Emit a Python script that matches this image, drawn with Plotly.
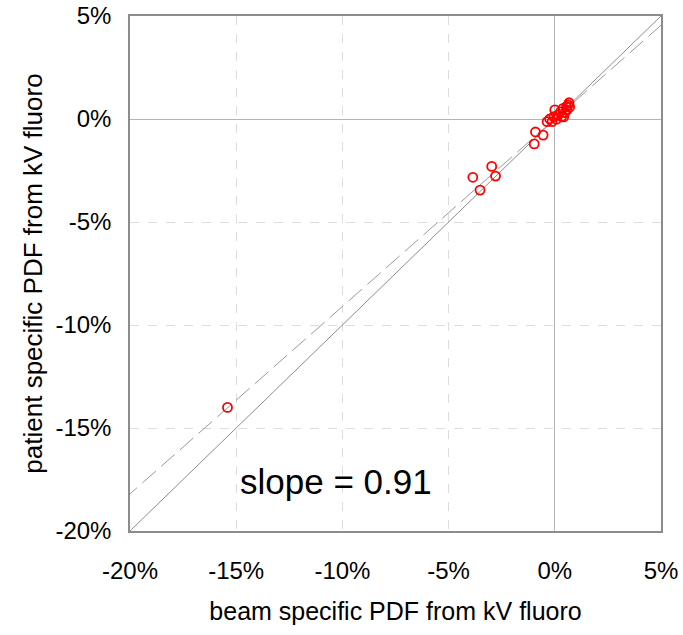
import plotly.graph_objects as go

# Per-field PDF differences (%): beam specific (x) vs patient specific (y)
beam_pdf = [-15.41, -3.86, -3.52, -2.97, -2.79, -0.97, -0.91, -0.55,
            -0.36, -0.24, -0.13, -0.05, 0.08, 0.16, 0.27, 0.32, 0.39,
            0.47, 0.55, 0.63, 0.67, 0.58, 0.00, 0.42, 0.70]
patient_pdf = [-14.00, -2.83, -3.45, -2.30, -2.77, -1.21, -0.63, -0.78,
               -0.13, 0.00, -0.13, 0.11, -0.01, 0.19, 0.35, 0.11, 0.52,
               0.31, 0.60, 0.68, 0.79, 0.44, 0.44, 0.10, 0.58]

slope = 0.91
axis_min, axis_max = -20, 5
tick_vals = [-20, -15, -10, -5, 0, 5]
tick_text = ["-20%", "-15%", "-10%", "-5%", "0%", "5%"]

FONT = "Liberation Sans, Arial, sans-serif"

fig = go.Figure()

# identity line
fig.add_trace(go.Scatter(
    x=[axis_min, axis_max], y=[axis_min, axis_max], mode="lines",
    line=dict(color="#8c8c8c", width=1), hoverinfo="skip", showlegend=False))

# fitted line through origin
fit_x = [axis_min - 0.3, axis_max]
fig.add_trace(go.Scatter(
    x=fit_x, y=[slope * v for v in fit_x], mode="lines",
    line=dict(color="#9a9a9a", width=1, dash="18px,7px"),
    hoverinfo="skip", showlegend=False))

fig.add_trace(go.Scatter(
    x=beam_pdf, y=patient_pdf, mode="markers",
    marker=dict(symbol="circle-open", size=9, color="#ff0000",
                line=dict(width=1.8, color="#ff0000")),
    showlegend=False))

fig.add_annotation(
    x=-10.3, y=-17.6, xref="x", yref="y", showarrow=False,
    text=f"slope = {slope:.2f}", font=dict(family=FONT, size=35, color="black"))

axis_common = dict(
    range=[axis_min, axis_max], tickvals=tick_vals, ticktext=tick_text,
    showgrid=True, gridcolor="#dcdcdc", griddash="dash", gridwidth=1,
    zeroline=True, zerolinecolor="#b4b4b4", zerolinewidth=1,
    showline=True, linecolor="#8c8c8c", linewidth=1.5, mirror=True,
    ticks="outside", tickcolor="rgba(0,0,0,0)", automargin=False,
    tickfont=dict(family=FONT, size=24, color="black"),
)

fig.update_xaxes(**axis_common, ticklen=17,
                 title=dict(text="beam specific PDF from kV fluoro",
                            font=dict(family=FONT, size=25, color="black"),
                            standoff=20))
fig.update_yaxes(**axis_common, ticklen=12,
                 title=dict(text="patient specific PDF from kV fluoro",
                            font=dict(family=FONT, size=26, color="black"),
                            standoff=5))

fig.update_layout(
    width=683, height=635,
    margin=dict(l=130, r=22, t=16, b=104),
    paper_bgcolor="white", plot_bgcolor="white",
    font=dict(family=FONT, color="black"),
)

fig.write_html("out.html")
